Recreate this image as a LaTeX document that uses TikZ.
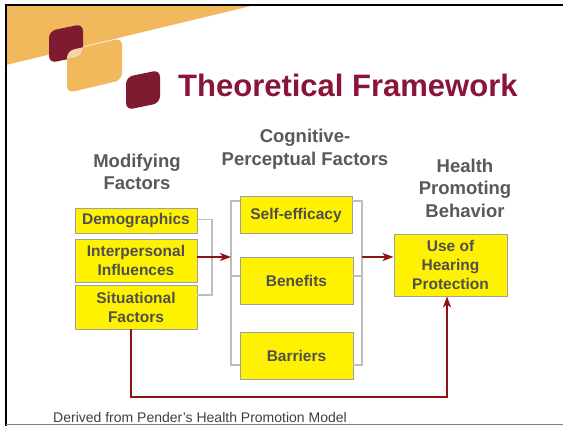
\documentclass[tikz,border=0pt]{standalone}
\usepackage{fontspec}
\setmainfont{Liberation Sans}
\usetikzlibrary{arrows.meta}
\definecolor{bandorange}{HTML}{F1B85C}
\definecolor{logored}{HTML}{7E1B30}
\definecolor{peach}{HTML}{F6D4A4}
\definecolor{titlered}{HTML}{8B1538}
\definecolor{headgray}{HTML}{595959}
\definecolor{boxtext}{HTML}{4F4F4F}
\definecolor{boxedge}{HTML}{A0A0A0}
\definecolor{linkgray}{HTML}{BEBEBE}
\definecolor{arrowred}{HTML}{8E1313}
\tikzset{
  factor/.style={draw=boxedge, line width=0.9pt, fill=yellow, text=boxtext,
    font=\fontsize{15.5}{19}\selectfont\bfseries, align=center, inner sep=0pt},
  heading/.style={text=headgray, font=\fontsize{18.5}{22.5}\selectfont\bfseries, align=center},
  bracket/.style={draw=linkgray, line width=1.2pt},
  flow/.style={draw=arrowred, line width=2.6pt,
    -{Stealth[length=11pt, width=8pt, inset=3pt]}},
}
\begin{document}
\begin{tikzpicture}[x=1pt, y=-1pt]
\useasboundingbox (0,0) rectangle (563,426);
\fill[white] (0,0) rectangle (563,426);

% logo: band, tab and two rounded squares
\fill[bandorange] (6,5) -- (255,5) -- (6,65) -- cycle;
\def\tabpath{(67,70) [rounded corners=7pt] -- (67,51) -- (122,38) -- (122,80) -- (67,93) [sharp corners] -- cycle}
\def\smallsq{(49,45) [rounded corners=7pt] -- (49,31) -- (83,24) -- (83,56) -- (49,63) [sharp corners] -- cycle}
\fill[bandorange] \tabpath;
\fill[logored] \smallsq;
\begin{scope}
  \clip \tabpath;
  \fill[peach] \smallsq;
\end{scope}
\fill[logored] (126,90) [rounded corners=7pt] -- (126,77) -- (160,70) -- (160,103) -- (126,110) [sharp corners] -- cycle;

% frame lines
\draw[black, line width=2pt] (6,426) -- (6,5) -- (563,5);
\draw[gray, line width=1.5pt] (6,424.5) -- (563,424.5);

% title
\node[anchor=base west, inner sep=0pt, text=titlered,
  font=\fontsize{31}{36}\selectfont\bfseries] (title) at (178,96) {Theoretical Framework};

% column headings
\node[heading] (hmod) at (137,172) {Modifying\\Factors};
\node[heading] (hcog) at (305,149) {Cognitive-\\Perceptual Factors};
\node[heading] (hbeh) at (465,188) {Health\\Promoting\\Behavior};

% modifying factors
\node[factor, minimum width=122pt, minimum height=25pt] (demo) at (136,220.5) {Demographics};
\node[factor, minimum width=122pt, minimum height=43pt] (inter) at (136,260.5) {Interpersonal\\Influences};
\node[factor, minimum width=122pt, minimum height=44pt] (sit) at (136,307) {Situational\\Factors};

% cognitive-perceptual factors
\node[factor, minimum width=112pt, minimum height=37pt] (self) at (296,215) {Self-efficacy};
\node[factor, minimum width=113pt, minimum height=47pt] (ben) at (296.5,280.5) {Benefits};
\node[factor, minimum width=113pt, minimum height=47pt] (bar) at (296.5,355.5) {Barriers};

% behaviour
\node[factor, minimum width=113pt, minimum height=62pt] (use) at (450.5,265) {Use of\\Hearing\\Protection};

% grouping brackets
\coordinate (lb) at (212,257);
\coordinate (mb) at (231,257);
\coordinate (rb) at (362,257);
\draw[bracket] (demo.east |- 0,219.5) -| (lb) |- (sit.east |- 0,295);
\draw[bracket] (self.west |- 0,201) -| (mb) |- (bar.west |- 0,365);
\draw[bracket] (mb |- 0,276) -- (ben.west |- 0,276);
\draw[bracket] (self.east |- 0,201) -| (rb) |- (bar.east |- 0,365);
\draw[bracket] (rb |- 0,276) -- (ben.east |- 0,276);

% influence arrows
\coordinate (low) at (131,397);
\coordinate (up) at (447,397);
\draw[flow] (inter.east |- mb) -- (mb);
\draw[flow] (rb) -- (use.west |- rb);
\draw[flow, rounded corners=0pt] (sit.south -| low) -- (low) -- (up) -- (use.south -| up);

% source note
\node[anchor=west, inner sep=0pt, text=black!75, font=\fontsize{14}{16}\selectfont] (src) at (53,417) {Derived from Pender’s Health Promotion Model};
\end{tikzpicture}
\end{document}
